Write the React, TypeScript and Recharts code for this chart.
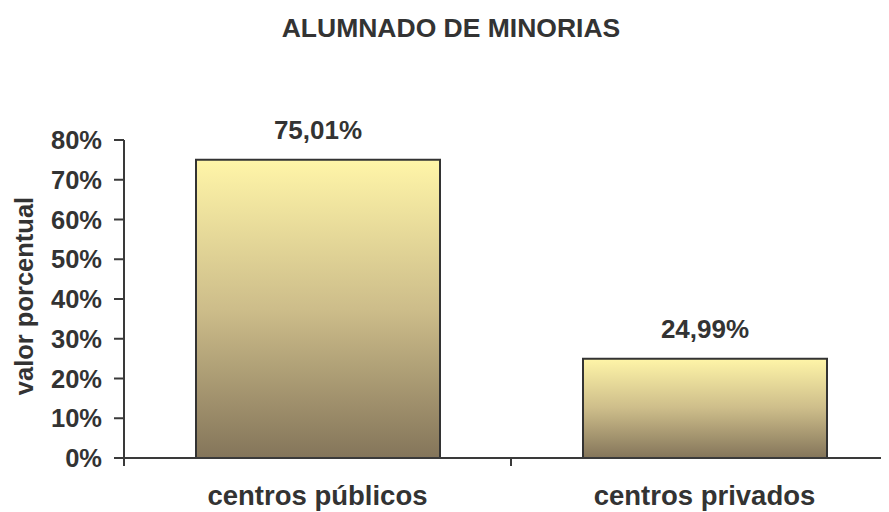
import { BarChart, Bar, XAxis, YAxis, LabelList } from "recharts";

const categories = ["centros públicos", "centros privados"];
const percentages = [75.01, 24.99];
const yTicks = [0, 10, 20, 30, 40, 50, 60, 70, 80];

const chartData = categories.map((name, i) => ({ name, value: percentages[i] }));

const FONT = '"Liberation Sans", Arial, Helvetica, sans-serif';
const TEXT = "#333333";
const LINE = "#3a3a3a";

function CategoryTick(props: any) {
  const { x, y, payload } = props;
  const half = payload?.offset ?? 0;
  return (
    <g>
      <line x1={x - half} x2={x - half} y1={y - 8} y2={y} stroke={LINE} strokeWidth={2} />
      <line x1={x + half} x2={x + half} y1={y - 8} y2={y} stroke={LINE} strokeWidth={2} />
      <text
        x={x}
        y={y}
        dy={39}
        textAnchor="middle"
        fill={TEXT}
        fontFamily={FONT}
        fontWeight="bold"
        fontSize={27.5}
      >
        {payload.value}
      </text>
    </g>
  );
}

function YLabel(props: any) {
  const { viewBox } = props;
  const cx = viewBox.x + 33;
  const cy = viewBox.y + viewBox.height / 2 - 3;
  return (
    <text
      x={cx}
      y={cy}
      transform={`rotate(-90 ${cx} ${cy})`}
      textAnchor="middle"
      fill={TEXT}
      fontFamily={FONT}
      fontWeight="bold"
      fontSize={25.5}
    >
      valor porcentual
    </text>
  );
}

export default function App() {
  return (
    <div
      style={{
        position: "relative",
        width: 889,
        height: 512,
        marginLeft: -8,
        marginTop: -8,
        overflow: "hidden",
        background: "#ffffff",
      }}
    >
      <svg width={889} height={60} style={{ position: "absolute", left: 0, top: 0 }}>
        <text
          x={451}
          y={37}
          textAnchor="middle"
          fill={TEXT}
          fontFamily={FONT}
          fontWeight="bold"
          fontSize={26.5}
        >
          ALUMNADO DE MINORIAS
        </text>
      </svg>
      <BarChart
        width={898}
        height={512}
        data={chartData}
        margin={{ top: 140, right: 0, left: 0, bottom: 0 }}
        barSize={244}
      >
        <defs>
          <linearGradient id="barFill" x1="0" y1="0" x2="0" y2="1">
            <stop offset="0%" stopColor="#fff5a8" />
            <stop offset="50%" stopColor="#cdbd8a" />
            <stop offset="100%" stopColor="#84755a" />
          </linearGradient>
        </defs>
        <XAxis
          dataKey="name"
          height={54}
          tickLine={false}
          tickSize={8}
          tickMargin={0}
          axisLine={{ stroke: LINE, strokeWidth: 2 }}
          tick={<CategoryTick />}
          interval={0}
        />
        <YAxis
          width={124}
          domain={[0, 80]}
          ticks={yTicks}
          tickSize={10}
          tickMargin={12}
          tickFormatter={(v: number) => `${v}%`}
          axisLine={{ stroke: LINE, strokeWidth: 2 }}
          tickLine={{ stroke: LINE, strokeWidth: 2 }}
          tick={{ fill: TEXT, fontFamily: FONT, fontWeight: "bold", fontSize: 25.5 }}
          label={<YLabel />}
        />
        <Bar
          dataKey="value"
          fill="url(#barFill)"
          stroke="#333333"
          strokeWidth={2}
          isAnimationActive={false}
        >
          <LabelList
            dataKey="value"
            position="top"
            offset={21}
            formatter={(v: any) => `${Number(v).toFixed(2).replace(".", ",")}%`}
            style={{ fill: TEXT, fontFamily: FONT, fontWeight: "bold", fontSize: 26 }}
          />
        </Bar>
      </BarChart>
    </div>
  );
}
